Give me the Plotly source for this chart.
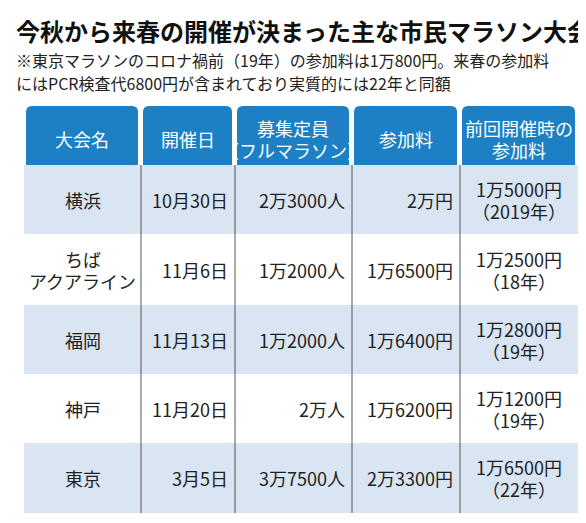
import plotly.graph_objects as go

TITLE = "今秋から来春の開催が決まった主な市民マラソン大会"
NOTE = ["※東京マラソンのコロナ禍前（19年）の参加料は1万800円。来春の参加料",
        "にはPCR検査代6800円が含まれており実質的には22年と同額"]

headers = ["大会名", "開催日", "募集定員<br>（フルマラソン）", "参加料", "前回開催時の<br>参加料"]
names = ["横浜", "ちば<br>アクアライン", "福岡", "神戸", "東京"]
dates = ["10月30日", "11月6日", "11月13日", "11月20日", "3月5日"]
capacity = ["2万3000人", "1万2000人", "1万2000人", "2万人", "3万7500人"]
fees = ["2万円", "1万6500円", "1万6400円", "1万6200円", "2万3300円"]
prev_fees = ["1万5000円<br>（2019年）", "1万2500円<br>（18年）", "1万2800円<br>（19年）",
             "1万1200円<br>（19年）", "1万6500円<br>（22年）"]

W, H = 586, 523
col_edges = [16, 133, 227, 344, 452, 570]
row_edges = [157, 226, 297, 366, 435, 505]
head_top, head_bot = 98, 164
aligns = ["center", "right", "right", "right", "center"]
FONT = "Noto Sans CJK JP"

fig = go.Figure()
shapes, annots = [], []


def rounded(x0, y0, x1, y1, r=6):
    return (f"M{x0+r},{y0} L{x1-r},{y0} Q{x1},{y0} {x1},{y0+r} L{x1},{y1-r} "
            f"Q{x1},{y1} {x1-r},{y1} L{x0+r},{y1} Q{x0},{y1} {x0},{y1-r} "
            f"L{x0},{y0+r} Q{x0},{y0} {x0+r},{y0} Z")


def add_text(x, yc, text, xa, size, color, gap):
    # multi-line texts as one annotation per line, so line spacing is controlled
    lines = text.split("<br>")
    n = len(lines)
    for k, ln in enumerate(lines):
        annots.append(dict(x=x, y=yc + (k - (n - 1) / 2) * gap, text=ln, xanchor=xa,
                           showarrow=False, font=dict(family=FONT, size=size, color=color)))


# header boxes
for i, h in enumerate(headers):
    x0, x1 = col_edges[i] + 2, col_edges[i + 1] - 3
    shapes.append(dict(type="path", path=rounded(x0, head_top, x1, head_bot),
                       fillcolor="#1d7fc4", line=dict(width=0), layer="below"))
    add_text((x0 + x1) / 2, (head_top + head_bot) / 2, h, "center", 18, "white", 22)

# body rows
columns = [names, dates, capacity, fees, prev_fees]
for r in range(len(names)):
    y0, y1 = row_edges[r], row_edges[r + 1]
    if r % 2 == 0:
        shapes.append(dict(type="rect", x0=col_edges[0], x1=col_edges[-1], y0=y0, y1=y1,
                           fillcolor="#d9e5f2", line=dict(width=0), layer="below"))
    for c, col in enumerate(columns):
        xl, xr = col_edges[c], col_edges[c + 1]
        if aligns[c] == "right":
            x, xa = xr - 5, "right"
        else:
            x, xa = (xl + xr) / 2, "center"
        add_text(x, (y0 + y1) / 2, col[r], xa, 18, "#222", 22)

for x in col_edges[1:-1]:
    shapes.append(dict(type="line", x0=x, x1=x, y0=row_edges[0], y1=row_edges[-1],
                       line=dict(color="#555", width=1)))

annots.append(dict(x=6, y=22, text=f"<b>{TITLE}</b>", xanchor="left", showarrow=False,
                   font=dict(family=FONT, size=24, color="#111")))
for i, line in enumerate(NOTE):
    annots.append(dict(x=6, y=52 + i * 23, text=line, xanchor="left", showarrow=False,
                       font=dict(family=FONT, size=16, color="#222")))

fig.update_layout(
    width=W, height=H, margin=dict(l=0, r=0, t=0, b=0),
    plot_bgcolor="white", paper_bgcolor="white",
    xaxis=dict(range=[0, W], visible=False, fixedrange=True),
    yaxis=dict(range=[H, 0], visible=False, fixedrange=True),
    shapes=shapes, annotations=annots, showlegend=False,
)
fig.write_html("out.html")
